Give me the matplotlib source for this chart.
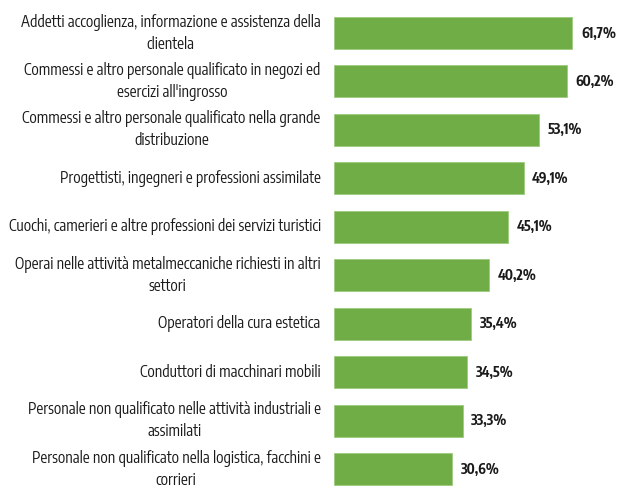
import matplotlib
matplotlib.use("Agg")
import matplotlib.pyplot as plt
from matplotlib import font_manager as fm

categories = [
    "Addetti accoglienza, informazione e assistenza della\nclientela",
    "Commessi e altro personale qualificato in negozi ed\nesercizi all'ingrosso",
    "Commessi e altro personale qualificato nella grande\ndistribuzione",
    "Progettisti, ingegneri e professioni assimilate",
    "Cuochi, camerieri e altre professioni dei servizi turistici",
    "Operai nelle attività metalmeccaniche richiesti in altri\nsettori",
    "Operatori della cura estetica",
    "Conduttori di macchinari mobili",
    "Personale non qualificato nelle attività industriali e\nassimilati",
    "Personale non qualificato nella logistica, facchini e\ncorrieri",
]
values = [61.7, 60.2, 53.1, 49.1, 45.1, 40.2, 35.4, 34.5, 33.3, 30.6]
value_labels = ["61,7%", "60,2%", "53,1%", "49,1%", "45,1%", "40,2%", "35,4%", "34,5%", "33,3%", "30,6%"]

W, H = 617, 486
fig = plt.figure(figsize=(W / 100, H / 100), dpi=100)
renderer = fig.canvas.get_renderer()

# candidate narrow faces; the reference uses a narrow Calibri-like face
prefs = ['PT Sans Narrow', 'Open Sans Condensed', 'Roboto Condensed', 'Fira Sans Extra Condensed',
         'Fira Sans Condensed', 'Encode Sans Condensed', 'Asap Condensed', 'Archivo Narrow',
         'Barlow Semi Condensed', 'Barlow Condensed', 'IBM Plex Sans Condensed', 'Cabin Condensed',
         'Liberation Sans Narrow', 'Sofia Sans Condensed', 'Encode Sans Semi Condensed',
         'Carlito', 'Liberation Sans', 'Roboto', 'Open Sans', 'Lato', 'Noto Sans']
avail = {}
for f in fm.fontManager.ttflist:
    w = f.weight if isinstance(f.weight, int) else (700 if 'bold' in str(f.weight).lower() else 400)
    avail.setdefault(f.name, set()).add(w)


def measure(s, size, family, weight="normal", ls=1.2):
    t = fig.text(0, 0, s, fontsize=size, fontweight=weight, linespacing=ls, family=family)
    bb = t.get_window_extent(renderer)
    t.remove()
    return bb.width, bb.height


TEXT_W = 297.0
first_line = categories[0].split("\n")[0]
target_ratio = TEXT_W / 11.0
best, best_err = 'DejaVu Sans', 1e9
for p in prefs:
    if p in avail and 400 in avail[p] and any(w >= 600 for w in avail[p]):
        wl, _ = measure(first_line, 20, p)
        capw, caph, capd = renderer.get_text_width_height_descent(
            "H", fm.FontProperties(family=p, size=20), ismath=False)
        ratio = wl / (caph - capd)
        err = abs(ratio - target_ratio)
        if err < best_err:
            best, best_err = p, err
family = best
plt.rcParams['font.family'] = [family, 'DejaVu Sans']

w10, _ = measure(first_line, 10, family)
cat_fs = 10 * TEXT_W / w10
v10, _ = measure(value_labels[0], 10, family, "bold")
val_fs = 10 * 35.0 / v10
_, h1 = measure("Ag", cat_fs, family, ls=1.0)
_, h2a = measure("Ag\nAg", cat_fs, family, ls=1.0)
_, h2b = measure("Ag\nAg", cat_fs, family, ls=2.0)
pa, pb = h2a - h1, h2b - h1
ls = 1.0 + (22.0 - pa) / (pb - pa) if pb != pa else 1.2

left_px = 334
ax = fig.add_axes([left_px / W, 0, 1 - left_px / W, 1])

pos = list(range(len(values)))
ax.barh(pos, values, height=0.66, color="#70AD47", edgecolor="#9CCB7E", linewidth=0.6)
ax.set_xlim(0, (W - left_px) / 3.865)
ax.set_ylim(9.345, -0.681)
ax.axis("off")

for p, v, lab in zip(pos, values, value_labels):
    ax.annotate(lab, xy=(v, p), xytext=(6.1, 0), textcoords="offset points",
                ha="left", va="center", fontsize=val_fs, fontweight="bold", color="#1a1a1a")

for p, c in zip(pos, categories):
    ax.annotate(c, xy=(0, p), xytext=(-9.6, 0), textcoords="offset points",
                ha="right", va="center", multialignment="center",
                fontsize=cat_fs, color="#1a1a1a", linespacing=ls,
                annotation_clip=False)

fig.savefig("out.png", dpi=100)
